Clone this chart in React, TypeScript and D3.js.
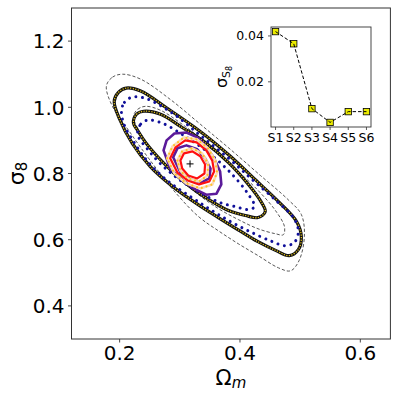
import React from 'react';
import * as d3 from 'd3';

type Pt = [number, number];

const omegaTicks = [0.2, 0.4, 0.6];
const sigmaTicks = [0.4, 0.6, 0.8, 1.0, 1.2];
const bestFit: Pt = [0.317, 0.829];

const dashedOuter: Pt[] = [
  [0.178, 1.064], [0.188, 1.091], [0.205, 1.100], [0.235, 1.085], [0.284, 1.024],
  [0.334, 0.949], [0.384, 0.873], [0.434, 0.794], [0.480, 0.721], [0.502, 0.676],
  [0.507, 0.609], [0.498, 0.536], [0.484, 0.506], [0.464, 0.515], [0.430, 0.552],
  [0.397, 0.588], [0.364, 0.627], [0.331, 0.670], [0.293, 0.742], [0.251, 0.839],
  [0.215, 0.930], [0.188, 1.003],
];
const dashedInner: Pt[] = [
  [0.223, 0.973], [0.230, 0.994], [0.243, 1.003], [0.268, 0.991], [0.309, 0.942],
  [0.351, 0.882], [0.392, 0.815], [0.430, 0.749], [0.459, 0.688], [0.474, 0.639],
  [0.472, 0.615], [0.459, 0.618], [0.430, 0.633], [0.397, 0.661], [0.364, 0.694],
  [0.331, 0.736], [0.298, 0.785], [0.268, 0.839], [0.245, 0.894], [0.230, 0.936],
];
const blackOuter: Pt[] = [
  [0.191, 1.018], [0.198, 1.045], [0.211, 1.058], [0.235, 1.049], [0.279, 0.997],
  [0.334, 0.927], [0.384, 0.852], [0.425, 0.782], [0.464, 0.715], [0.494, 0.655],
  [0.502, 0.609], [0.497, 0.570], [0.482, 0.552], [0.460, 0.567], [0.430, 0.594],
  [0.397, 0.630], [0.364, 0.667], [0.328, 0.709], [0.288, 0.761], [0.251, 0.821],
  [0.221, 0.891], [0.200, 0.964],
];
const blackInner: Pt[] = [
  [0.223, 0.952], [0.228, 0.979], [0.240, 0.988], [0.268, 0.979], [0.304, 0.939],
  [0.342, 0.894], [0.381, 0.833], [0.414, 0.767], [0.434, 0.718], [0.442, 0.685],
  [0.430, 0.667], [0.409, 0.673], [0.381, 0.688], [0.351, 0.718], [0.321, 0.755],
  [0.291, 0.800], [0.264, 0.849], [0.243, 0.894], [0.230, 0.930],
];
const blueOuter: Pt[] = [
  [0.203, 0.988], [0.208, 1.015], [0.220, 1.030], [0.243, 1.027], [0.288, 0.982],
  [0.334, 0.915], [0.381, 0.846], [0.420, 0.782], [0.460, 0.718], [0.490, 0.664],
  [0.497, 0.624], [0.490, 0.591], [0.475, 0.582], [0.450, 0.597], [0.417, 0.624],
  [0.384, 0.655], [0.351, 0.691], [0.318, 0.730], [0.281, 0.776], [0.248, 0.833],
  [0.223, 0.897], [0.208, 0.945],
];
const blueInner: Pt[] = [
  [0.230, 0.918], [0.235, 0.949], [0.246, 0.961], [0.271, 0.952], [0.309, 0.912],
  [0.347, 0.864], [0.384, 0.803], [0.412, 0.742], [0.424, 0.700], [0.414, 0.691],
  [0.392, 0.700], [0.367, 0.712], [0.334, 0.742], [0.301, 0.779], [0.271, 0.824],
  [0.248, 0.870],
];
const purpleOuter: Pt[] = [
  [0.273, 0.870], [0.278, 0.900], [0.291, 0.921], [0.311, 0.924], [0.329, 0.909],
  [0.344, 0.882], [0.357, 0.846], [0.367, 0.806], [0.369, 0.767], [0.361, 0.739],
  [0.344, 0.736], [0.326, 0.752], [0.304, 0.779], [0.284, 0.815],
];
const purpleInner: Pt[] = [
  [0.289, 0.849], [0.296, 0.876], [0.311, 0.885], [0.329, 0.873], [0.342, 0.846],
  [0.351, 0.815], [0.349, 0.785], [0.336, 0.773], [0.318, 0.782], [0.301, 0.803],
];
const redOuter: Pt[] = [
  [0.284, 0.846], [0.293, 0.879], [0.309, 0.900], [0.328, 0.894], [0.344, 0.870],
  [0.354, 0.839], [0.357, 0.806], [0.349, 0.776], [0.332, 0.767], [0.313, 0.779],
  [0.296, 0.803],
];
const redInner: Pt[] = [
  [0.301, 0.839], [0.307, 0.861], [0.321, 0.867], [0.334, 0.852], [0.342, 0.827],
  [0.341, 0.800], [0.329, 0.785], [0.314, 0.794], [0.304, 0.815],
];
const paleOuter: Pt[] = [
  [0.279, 0.846], [0.288, 0.882], [0.307, 0.909], [0.329, 0.903], [0.347, 0.876],
  [0.359, 0.839], [0.362, 0.803], [0.354, 0.767], [0.334, 0.755], [0.311, 0.770],
  [0.291, 0.800],
];
const paleInner: Pt[] = [
  [0.296, 0.839], [0.304, 0.867], [0.321, 0.876], [0.337, 0.861], [0.347, 0.830],
  [0.346, 0.794], [0.332, 0.776], [0.313, 0.785], [0.301, 0.809],
];

const insetLabels = ['S1', 'S2', 'S3', 'S4', 'S5', 'S6'];
const insetValues = [0.0419, 0.0366, 0.0083, 0.0023, 0.007, 0.007];
const insetTicks = [0.02, 0.04];

export default function App() {
  const x = d3.scaleLinear().domain([0.12, 0.65]).range([71.5, 390.4]);
  const y = d3.scaleLinear().domain([0.3, 1.3]).range([339, 8]);
  const smooth = d3
    .line<Pt>()
    .x((d) => x(d[0]))
    .y((d) => y(d[1]))
    .curve(d3.curveCatmullRomClosed.alpha(0.5));
  const poly = d3
    .line<Pt>()
    .x((d) => x(d[0]))
    .y((d) => y(d[1]))
    .curve(d3.curveLinearClosed);

  const ix = d3.scaleLinear().domain([-0.25, 5.25]).range([271, 371]);
  const iy = d3.scaleLinear().domain([0.0003, 0.0439]).range([127, 27]);
  const insetLine = d3
    .line<number>()
    .x((_, i) => ix(i))
    .y((d) => iy(d));

  const fmt = d3.format('.1f');
  const font = 'DejaVu Sans, sans-serif';
  const [x0, x1] = x.range();
  const [y0, y1] = y.range();

  return (
    <svg
      width={399}
      height={399}
      style={{ position: 'absolute', left: 0, top: 0, background: '#fff' }}
      fontFamily={font}
    >
      <rect x={0} y={0} width={399} height={399} fill="#fff" />
      {[dashedOuter, dashedInner].map((c, i) => (
        <path key={'d' + i} d={smooth(c) || ''} fill="none" stroke="#444" strokeWidth={0.9} strokeDasharray="3.2,2" />
      ))}
      {[blackOuter, blackInner].map((c, i) => (
        <g key={'b' + i}>
          <path d={smooth(c) || ''} fill="none" stroke="#111" strokeWidth={3.2} />
          <path d={smooth(c) || ''} fill="none" stroke="#e3c21a" strokeWidth={1.3} strokeDasharray="1.2,1.4" />
        </g>
      ))}
      {[blueOuter, blueInner].map((c, i) => (
        <path key={'u' + i} d={smooth(c) || ''} fill="none" stroke="#10109a" strokeWidth={3} strokeDasharray="0.01,6.6" strokeLinecap="round" />
      ))}
      {[purpleOuter, purpleInner].map((c, i) => (
        <path key={'p' + i} d={poly(c) || ''} fill="none" stroke="#5b1a9a" strokeWidth={2.6} strokeLinejoin="round" />
      ))}
      {[paleOuter, paleInner].map((c, i) => (
        <path key={'q' + i} d={poly(c) || ''} fill="none" stroke="#fcd9b8" strokeWidth={2.6} strokeLinejoin="round" />
      ))}
      {[redOuter, redInner].map((c, i) => (
        <path key={'r' + i} d={poly(c) || ''} fill="none" stroke="#ff1010" strokeWidth={2.2} strokeLinejoin="round" />
      ))}
      {[paleOuter, paleInner].map((c, i) => (
        <path key={'g' + i} d={poly(c) || ''} fill="none" stroke="#ffc425" strokeWidth={2.2} strokeDasharray="0.01,5" strokeLinecap="round" />
      ))}
      <g stroke="#000" strokeWidth={1}>
        <line x1={x(bestFit[0]) - 3.5} x2={x(bestFit[0]) + 3.5} y1={y(bestFit[1])} y2={y(bestFit[1])} />
        <line x1={x(bestFit[0])} x2={x(bestFit[0])} y1={y(bestFit[1]) - 3.5} y2={y(bestFit[1]) + 3.5} />
      </g>

      <rect x={x0} y={y1} width={x1 - x0} height={y0 - y1} fill="none" stroke="#333" strokeWidth={1} />
      {omegaTicks.map((t) => (
        <g key={'xt' + t}>
          <line x1={x(t)} x2={x(t)} y1={y0} y2={y0 + 3.5} stroke="#333" strokeWidth={0.9} />
          <text x={x(t)} y={360} fontSize={20} textAnchor="middle" fill="#000">
            {fmt(t)}
          </text>
        </g>
      ))}
      {sigmaTicks.map((t) => (
        <g key={'yt' + t}>
          <line x1={x0 - 3.5} x2={x0} y1={y(t)} y2={y(t)} stroke="#333" strokeWidth={0.9} />
          <text x={64.5} y={y(t)} dy="0.36em" fontSize={20} textAnchor="end" fill="#000">
            {fmt(t)}
          </text>
        </g>
      ))}
      <text x={(x0 + x1) / 2} y={385} fontSize={21} textAnchor="middle" fill="#000">
        Ω<tspan fontSize={15} fontStyle="italic" dy={3}>m</tspan>
      </text>
      <text transform={`translate(24,${(y0 + y1) / 2}) rotate(-90)`} fontSize={22} textAnchor="middle" fill="#000">
        σ<tspan fontSize={15} dy={3}>8</tspan>
      </text>

      <rect x={271} y={27} width={100} height={100} fill="#fff" stroke="#333" strokeWidth={0.9} />
      {insetLabels.map((s, i) => (
        <g key={s}>
          <line x1={ix(i)} x2={ix(i)} y1={127} y2={130} stroke="#333" strokeWidth={0.8} />
          <text x={ix(i)} y={142} fontSize={12.5} textAnchor="middle" fill="#000">
            {s}
          </text>
        </g>
      ))}
      {insetTicks.map((t) => (
        <g key={'it' + t}>
          <line x1={268} x2={271} y1={iy(t)} y2={iy(t)} stroke="#333" strokeWidth={0.8} />
          <text x={264} y={iy(t)} dy="0.36em" fontSize={12.5} textAnchor="end" fill="#000">
            {d3.format('.2f')(t)}
          </text>
        </g>
      ))}
      <text transform="translate(227,77) rotate(-90)" fontSize={16} textAnchor="middle" fill="#000">
        σ
        <tspan fontSize={11} dy={3}>S</tspan>
        <tspan fontSize={8} dy={2}>8</tspan>
      </text>
      {insetValues.map((v, i) => (
        <rect key={'m' + i} x={ix(i) - 3.2} y={iy(v) - 3.2} width={6.4} height={6.4} fill="#ecec00" stroke="#000" strokeWidth={0.8} />
      ))}
      <path d={insetLine(insetValues) || ''} fill="none" stroke="#000" strokeWidth={1} strokeDasharray="3.5,2" />
    </svg>
  );
}
